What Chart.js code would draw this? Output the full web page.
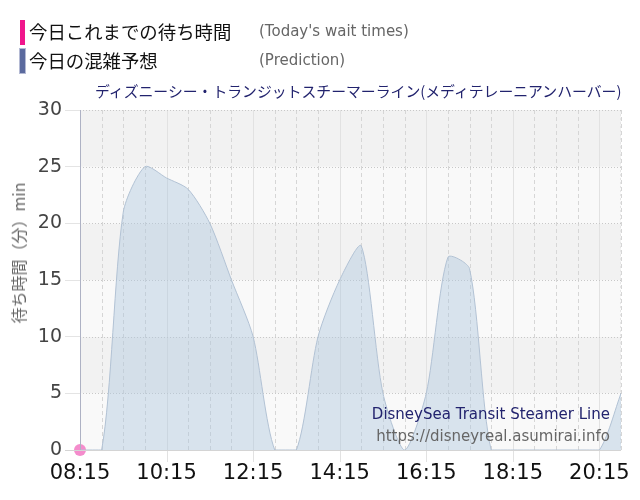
<!DOCTYPE html>
<html>
<head>
<meta charset="utf-8">
<script src="https://cdn.jsdelivr.net/npm/chart.js@4"></script>
<style>
  html, body { margin: 0; padding: 0; background: #fff; }
  #wrap { position: relative; width: 640px; height: 500px; overflow: hidden; }
  #c { position: absolute; left: 0; top: 0; }
  .lg { position: absolute; font-family: "Noto Sans CJK JP", sans-serif; font-size: 18.4px; color: #111; line-height: 24px; white-space: nowrap; }
  .lgbar { position: absolute; width: 5px; }
  .en { position: absolute; font-family: "DejaVu Sans", Verdana, sans-serif; font-size: 15px; color: #666; white-space: nowrap; line-height: 20px; }
  #title { position: absolute; left: 95px; top: 81px; font-family: "Noto Sans CJK JP", sans-serif; font-size: 14.85px; color: #22236e; white-space: nowrap; line-height: 20px; }
  #ytitle { position: absolute; left: 18px; top: 253px; transform: translate(-50%, -50%) rotate(-90deg); font-family: "Noto Sans CJK JP", sans-serif; font-size: 16px; color: #666; white-space: nowrap; }
  .wm { position: absolute; right: 30px; font-family: "DejaVu Sans", Verdana, sans-serif; font-size: 15px; white-space: nowrap; line-height: 20px; }
</style>
</head>
<body>
<div id="wrap">
  <canvas id="c" width="640" height="500"></canvas>
  <div class="lgbar" style="left:20px; top:20px; height:25px; background:#f0168c;"></div>
  <div class="lg" style="left:29px; top:19px;">今日これまでの待ち時間</div>
  <div class="en" style="left:259px; top:21px;">(Today's wait times)</div>
  <div class="lgbar" style="left:20px; top:49px; height:24px; background:#5b6a9e; box-shadow: 0 0 0 1px #b4bad4;"></div>
  <div class="lg" style="left:29px; top:48px;">今日の混雑予想</div>
  <div class="en" style="left:259px; top:50px;">(Prediction)</div>
  <div id="title">ディズニーシー・トランジットスチーマーライン(メディテレーニアンハーバー)</div>
  <div id="ytitle">待ち時間（分）min</div>
  <div class="wm" style="top:404px; color:#22236e;">DisneySea Transit Steamer Line</div>
  <div class="wm" style="top:426px; color:#666;">https://disneyreal.asumirai.info</div>
</div>
<script>
const timeLabels = ["08:15","08:45","09:15","09:45","10:15","10:45","11:15","11:45","12:15","12:45","13:15","13:45","14:15","14:45","15:15","15:45","16:15","16:45","17:15","17:45","18:15","18:45","19:15","19:45","20:15","20:45"];
const predictionValues = [0,0,21,25,24,23,20,15,10,0,0,10,15,18,5,0,5,17,16,0,0,0,0,0,0,5];
const todayValues = [0];
const yTicks = [0,5,10,15,20,25,30];

const bgPlugin = {
  id: 'bg',
  beforeDatasetsDraw(chart) {
    const {ctx, chartArea: a, scales: {x, y}} = chart;
    ctx.save();
    for (let i = 0; i < yTicks.length - 1; i++) {
      const y0 = y.getPixelForValue(yTicks[i]);
      const y1 = y.getPixelForValue(yTicks[i + 1]);
      ctx.fillStyle = (i % 2 === 1) ? '#f2f2f2' : '#f9f9f9';
      ctx.fillRect(a.left, y1, a.right - a.left, y0 - y1);
    }
    ctx.strokeStyle = '#d6d6d6';
    ctx.lineWidth = 1;
    ctx.setLineDash([4, 3]);
    timeLabels.forEach((t, i) => {
      if (i % 4 === 0) return;
      const px = Math.round(x.getPixelForValue(i)) + 0.5;
      ctx.beginPath(); ctx.moveTo(px, a.top); ctx.lineTo(px, a.bottom); ctx.stroke();
    });
    ctx.setLineDash([]);
    ctx.strokeStyle = '#e2e2e2';
    timeLabels.forEach((t, i) => {
      if (i % 4 !== 0 || i === 0) return;
      const px = Math.round(x.getPixelForValue(i)) + 0.5;
      ctx.beginPath(); ctx.moveTo(px, a.top); ctx.lineTo(px, a.bottom + 12); ctx.stroke();
    });
    ctx.strokeStyle = '#e6e6e6';
    ctx.setLineDash([2, 2]);
    ctx.beginPath(); ctx.moveTo(a.right - 0.5, a.top); ctx.lineTo(a.right - 0.5, a.bottom); ctx.stroke();
    ctx.strokeStyle = '#c8c8c8';
    ctx.setLineDash([1, 2]);
    yTicks.forEach(v => {
      if (v === 0) return;
      const py = Math.round(y.getPixelForValue(v)) + 0.5;
      ctx.beginPath(); ctx.moveTo(a.left, py); ctx.lineTo(a.right, py); ctx.stroke();
    });
    ctx.restore();
  },
  afterDatasetsDraw(chart) {
    const {ctx, chartArea: a, scales: {y}} = chart;
    ctx.save();
    ctx.strokeStyle = '#d4d4d4';
    ctx.lineWidth = 1;
    const py = Math.round(y.getPixelForValue(0)) + 0.5;
    ctx.beginPath(); ctx.moveTo(a.left - 15, py); ctx.lineTo(a.right, py); ctx.stroke();
    ctx.strokeStyle = '#aeb2c4';
    ctx.beginPath(); ctx.moveTo(a.left + 0.5, a.top); ctx.lineTo(a.left + 0.5, a.bottom); ctx.stroke();
    ctx.restore();
  }
};

new Chart(document.getElementById('c'), {
  type: 'line',
  data: {
    labels: timeLabels,
    datasets: [
      {
        label: '今日の混雑予想',
        data: predictionValues,
        borderColor: '#b2c2d4',
        borderWidth: 1,
        backgroundColor: 'rgba(176,200,222,0.45)',
        fill: 'origin',
        pointRadius: 0,
        tension: 0.25
      },
      {
        label: '今日これまでの待ち時間',
        data: todayValues,
        borderColor: '#e0509c',
        backgroundColor: '#f48ccc',
        pointRadius: 6,
        pointBorderWidth: 0,
        pointBackgroundColor: '#f48ccc',
        showLine: false,
        clip: false
      }
    ]
  },
  options: {
    responsive: false,
    animation: false,
    events: [],
    layout: { padding: { top: 110, right: 19, left: 0, bottom: 0 } },
    plugins: { legend: { display: false }, tooltip: { enabled: false }, title: { display: false } },
    scales: {
      x: {
        type: 'category',
        offset: false,
        afterFit(s) { s.height = 50; },
        grid: { display: false },
        border: { display: false },
        ticks: {
          autoSkip: false,
          maxRotation: 0,
          padding: 3,
          color: '#111',
          font: { family: 'DejaVu Sans', size: 21 },
          callback(v, i) { return i % 4 === 0 ? timeLabels[i] : ''; }
        }
      },
      y: {
        min: 0, max: 30,
        afterFit(s) { s.width = 80; },
        afterBuildTicks(s) { s.ticks = yTicks.map(v => ({ value: v })); },
        grid: { drawOnChartArea: false, tickLength: 15, tickColor: '#e4e4e4' },
        border: { display: false },
        ticks: {
          padding: 3,
          color: '#444',
          font: { family: 'DejaVu Sans', size: 19 }
        }
      }
    }
  },
  plugins: [bgPlugin]
});
</script>
</body>
</html>
